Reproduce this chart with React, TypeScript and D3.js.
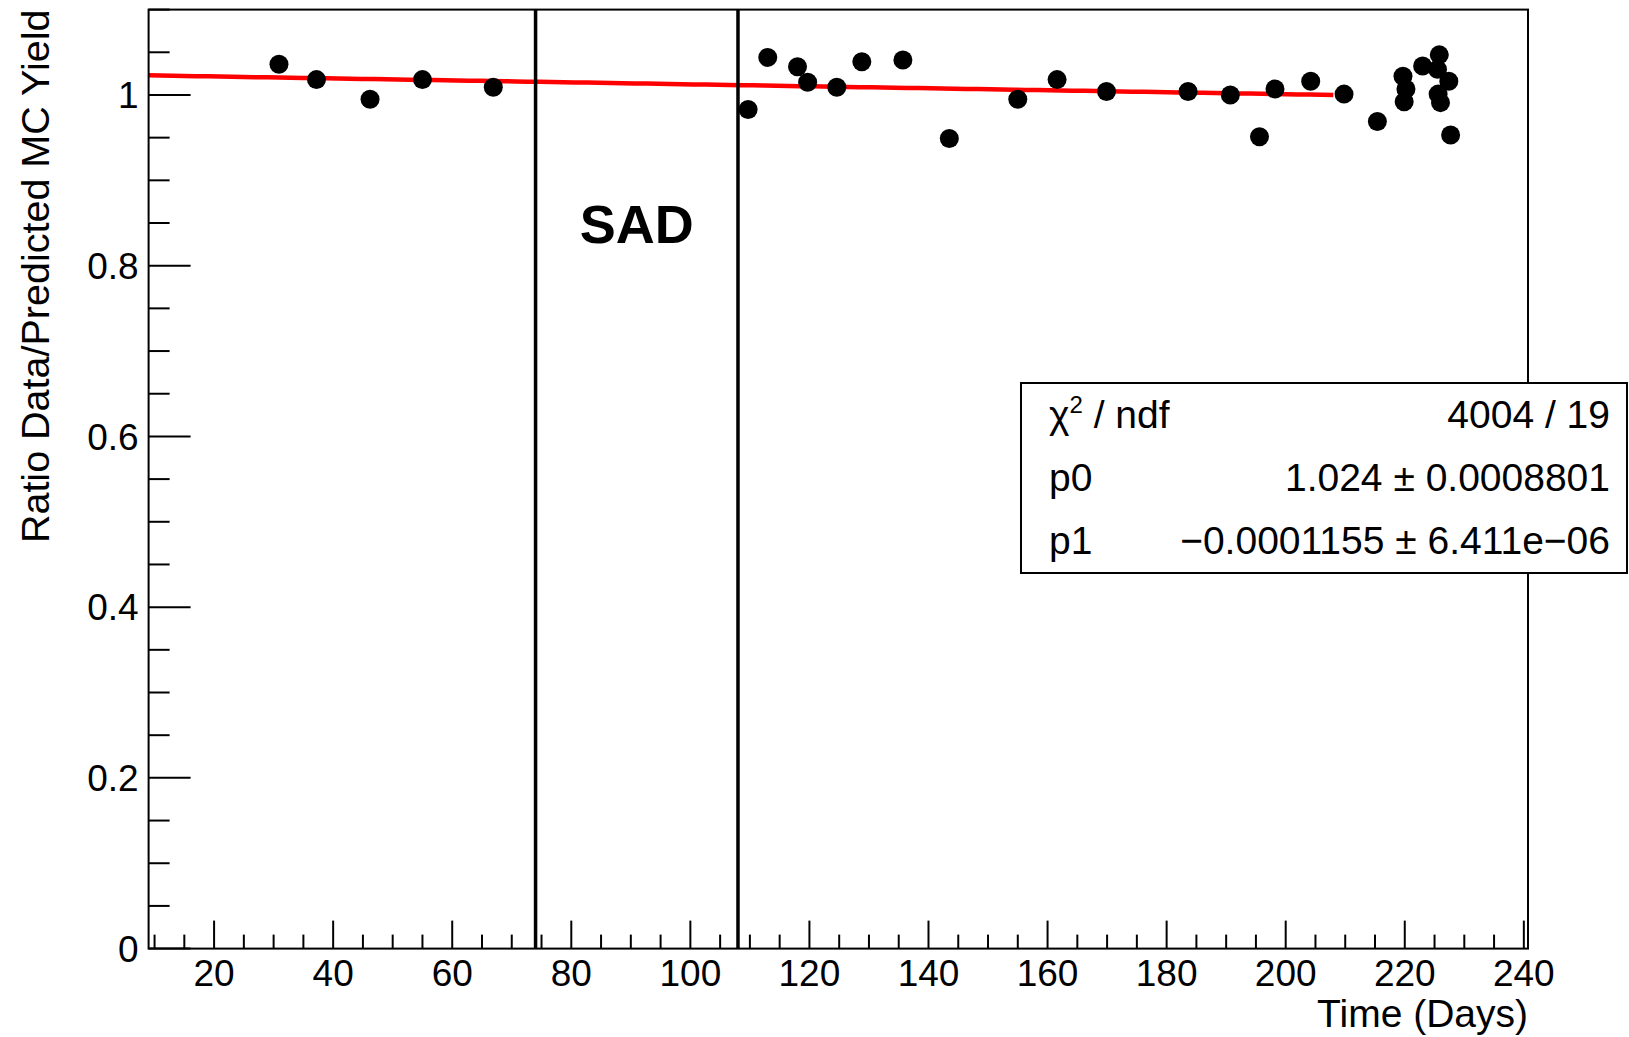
import React, { useEffect } from "react";
import * as d3 from "d3";

// ---- data ----
const days = [
  30.9, 37.2, 46.2, 55.0, 66.9, 109.7, 113.0, 118.0, 119.7, 124.6, 128.8, 135.7,
  143.5, 155.0, 161.6, 169.9, 183.6, 190.7, 195.6, 198.2, 204.2, 209.8, 215.4,
  219.7, 220.2, 219.9, 223.0, 225.8, 225.5, 227.4, 225.6, 226.0, 227.7,
];
const ratios = [
  1.036, 1.018, 0.995, 1.018, 1.009, 0.983, 1.044, 1.033, 1.015, 1.009, 1.039, 1.041,
  0.949, 0.995, 1.018, 1.004, 1.004, 1.0, 0.951, 1.007, 1.016, 1.001, 0.969,
  1.022, 1.007, 0.992, 1.034, 1.047, 1.03, 1.016, 1.001, 0.991, 0.953,
];
const fitP0 = 1.024;
const fitP1 = -0.0001155;
const fitRange = [9, 208];
const sadBoundaries = [74, 108];
const sadLabel = { text: "SAD", x: 91, y: 0.827 };
const xMajorTicks = [20, 40, 60, 80, 100, 120, 140, 160, 180, 200, 220, 240];
const yMajorTicks = [0, 0.2, 0.4, 0.6, 0.8, 1];
const xTitle = "Time (Days)";
const yTitle = "Ratio Data/Predicted MC Yield";
const statNames = ["χ2 / ndf", "p0", "p1"];
const statValues = ["4004 / 19", "1.024 ± 0.0008801", "\u22120.0001155 ± 6.411e\u221206"];

const W = 1629;
const H = 1037;
const FONT = "'Liberation Sans', Arial, Helvetica, sans-serif";

export default function App() {
  useEffect(() => {
    document.body.style.margin = "0";
  }, []);

  const frame = { left: 148.6, right: 1528, top: 9.6, bottom: 948.6 };
  const x = d3.scaleLinear().domain([9, 240.7]).range([frame.left, frame.right]);
  const y = d3.scaleLinear().domain([0, 1.1]).range([frame.bottom, frame.top]);

  const xMinor = d3.range(10, 241, 5).filter((v) => v % 20 !== 0 && x(v) < frame.right);
  const yMinor = d3.range(0, 1.1001, 0.05).filter((v) => Math.abs(Math.round(v * 5) - v * 5) > 1e-6);

  const fitLine = d3
    .line<number>()
    .x((d) => x(d))
    .y((d) => y(fitP0 + fitP1 * d));
  const fitPts = d3.range(fitRange[0], fitRange[1] + 0.001, (fitRange[1] - fitRange[0]) / 100);

  const fmt = d3.format("~g");
  const majorY = 42;
  const minorY = 21;
  const majorX = 28;
  const minorX = 14;

  const box = { x0: 1021, x1: 1627, y0: 383, y1: 573 };
  const rowH = (box.y1 - box.y0) / 3;

  return (
    <svg
      width={W}
      height={H}
      style={{ position: "fixed", left: 0, top: 0, display: "block", background: "#fff" }}
      fontFamily={FONT}
    >
      <rect x={0} y={0} width={W} height={H} fill="#fff" />

      {/* fit line */}
      <path d={fitLine(fitPts) || ""} fill="none" stroke="#ff0000" strokeWidth={4.5} />

      {/* SAD boundaries */}
      {sadBoundaries.map((b) => (
        <line key={b} x1={x(b)} x2={x(b)} y1={y(0)} y2={frame.top} stroke="#000" strokeWidth={3.5} />
      ))}
      <text
        x={x(sadLabel.x)}
        y={y(sadLabel.y)}
        textAnchor="middle"
        fontWeight="bold"
        fontSize={54}
        fill="#000"
      >
        {sadLabel.text}
      </text>

      {/* points */}
      {days.map((d, i) => (
        <circle key={i} cx={x(d)} cy={y(ratios[i])} r={9.5} fill="#000" />
      ))}

      {/* frame */}
      <rect
        x={frame.left}
        y={frame.top}
        width={frame.right - frame.left}
        height={frame.bottom - frame.top}
        fill="none"
        stroke="#000"
        strokeWidth={2}
      />

      {/* y ticks */}
      {yMajorTicks.map((t) => (
        <g key={"ym" + t}>
          <line x1={frame.left} x2={frame.left + majorY} y1={y(t)} y2={y(t)} stroke="#000" strokeWidth={2} />
          <text x={frame.left - 10} y={y(t)} dy="0.36em" textAnchor="end" fontSize={37} fill="#000">
            {fmt(t)}
          </text>
        </g>
      ))}
      {yMinor.map((t) => (
        <line key={"yn" + t} x1={frame.left} x2={frame.left + minorY} y1={y(t)} y2={y(t)} stroke="#000" strokeWidth={2} />
      ))}

      {/* x ticks */}
      {xMajorTicks.map((t) => (
        <g key={"xm" + t}>
          <line x1={x(t)} x2={x(t)} y1={frame.bottom} y2={frame.bottom - majorX} stroke="#000" strokeWidth={2} />
          <text x={x(t)} y={986} textAnchor="middle" fontSize={37} fill="#000">
            {t}
          </text>
        </g>
      ))}
      {xMinor.map((t) => (
        <line key={"xn" + t} x1={x(t)} x2={x(t)} y1={frame.bottom} y2={frame.bottom - minorX} stroke="#000" strokeWidth={2} />
      ))}

      {/* axis titles */}
      <text x={frame.right} y={1027} textAnchor="end" fontSize={39} fill="#000">
        {xTitle}
      </text>
      <text
        transform={`translate(49, ${frame.top}) rotate(-90)`}
        textAnchor="end"
        fontSize={39.5}
        fill="#000"
      >
        {yTitle}
      </text>

      {/* stats box */}
      <rect x={box.x0} y={box.y0} width={box.x1 - box.x0} height={box.y1 - box.y0} fill="#fff" stroke="#000" strokeWidth={2} />
      {statNames.map((n, i) => {
        const by = box.y0 + rowH * (i + 0.5) + 13;
        return (
          <g key={n}>
            <text x={1049} y={by} fontSize={39} fill="#000">
              {n.startsWith("χ2") ? (
                <>
                  <tspan>χ</tspan>
                  <tspan fontSize={24} dy={-15}>2</tspan>
                  <tspan dy={15}>{n.slice(2)}</tspan>
                </>
              ) : (
                n
              )}
            </text>
            <text x={1610} y={by} textAnchor="end" fontSize={39} fill="#000">
              {statValues[i]}
            </text>
          </g>
        );
      })}
    </svg>
  );
}
